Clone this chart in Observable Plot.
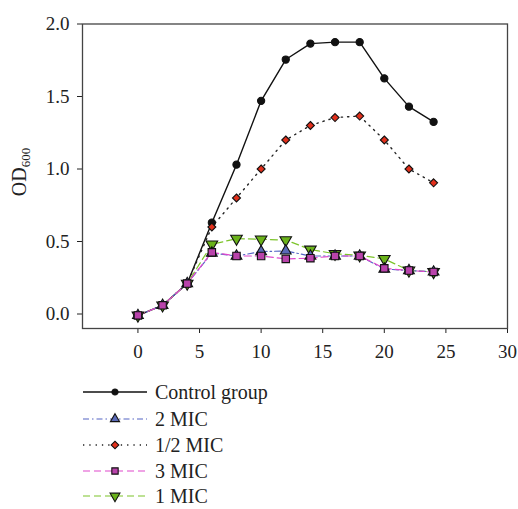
<!DOCTYPE html>
<html>
<head>
<meta charset="utf-8">
<script src="https://cdn.jsdelivr.net/npm/d3@7"></script>
<script src="https://cdn.jsdelivr.net/npm/@observablehq/plot@0.6"></script>
<style>
  html, body { margin: 0; padding: 0; background: #fff; }
  #chart svg, #legend svg { display: block; }
</style>
</head>
<body>
<div id="chart"></div>
<div id="legend"></div>
<script>
const hours = [0, 2, 4, 6, 8, 10, 12, 14, 16, 18, 20, 22, 24];
const seriesNames = ["Control group", "2 MIC", "1/2 MIC", "3 MIC", "1 MIC"];
const control = [-0.01, 0.06, 0.21, 0.63, 1.03, 1.47, 1.755, 1.865, 1.875, 1.875, 1.625, 1.43, 1.325];
const mic2    = [-0.01, 0.06, 0.21, 0.42, 0.40, 0.43, 0.435, 0.40, 0.40, 0.40, 0.31, 0.30, 0.29];
const micHalf = [-0.01, 0.06, 0.21, 0.60, 0.80, 1.00, 1.20, 1.30, 1.355, 1.365, 1.20, 1.00, 0.905];
const mic3    = [-0.01, 0.06, 0.21, 0.425, 0.40, 0.40, 0.38, 0.385, 0.40, 0.40, 0.315, 0.30, 0.29];
const mic1    = [-0.01, 0.06, 0.21, 0.48, 0.52, 0.515, 0.51, 0.445, 0.415, 0.405, 0.38, 0.30, 0.29];
const xTicks = [0, 5, 10, 15, 20, 25, 30];
const yTicks = [0, 0.5, 1.0, 1.5, 2.0];

const FONT = "'Liberation Serif', 'DejaVu Serif', serif";
const styles = {
  "Control group": {stroke: "#111", dash: null, symbol: "circle", fill: "#111", r: 3.6, rotate: 0, width: 1.4},
  "2 MIC": {stroke: "#5565c4", dash: "6,3,1.5,3", symbol: "triangle", fill: "#5a6ab8", r: 4.0, rotate: 0, width: 1.2},
  "1/2 MIC": {stroke: "#222", dash: "1.3,5", symbol: "diamond2", fill: "#e2301c", r: 3.6, rotate: 0, width: 1.4},
  "3 MIC": {stroke: "#e048cc", dash: "7,4", symbol: "square", fill: "#b943ab", r: 4.2, rotate: 0, width: 1.2},
  "1 MIC": {stroke: "#7cc42a", dash: "7,4", symbol: "triangle", fill: "#6ab21a", r: 4.3, rotate: 180, width: 1.2}
};
const valuesBy = {"Control group": control, "2 MIC": mic2, "1/2 MIC": micHalf, "3 MIC": mic3, "1 MIC": mic1};
const drawOrder = ["Control group", "1/2 MIC", "1 MIC", "2 MIC", "3 MIC"];
const rows = name => hours.map((h, i) => ({hour: h, od: valuesBy[name][i], series: name}));

const marks = [Plot.frame({stroke: "#444", strokeWidth: 1.3})];
for (const name of drawOrder) {
  const s = styles[name];
  marks.push(Plot.line(rows(name), {x: "hour", y: "od", stroke: s.stroke, strokeWidth: s.width, strokeDasharray: s.dash}));
}
for (const name of drawOrder) {
  const s = styles[name];
  marks.push(Plot.dot(rows(name), {x: "hour", y: "od", symbol: s.symbol, r: s.r, fill: s.fill, stroke: "#111", strokeWidth: 1.1, rotate: s.rotate}));
}

const chart = Plot.plot({
  width: 518,
  height: 362,
  marginLeft: 82,
  marginRight: 11,
  marginTop: 23.5,
  marginBottom: 34,
  style: {fontFamily: FONT, fontSize: "19px", color: "#222", background: "#fff"},
  x: {domain: [-4.5, 30], ticks: xTicks, tickSize: 5, tickPadding: 11, label: null},
  y: {domain: [-0.1, 2.0], ticks: yTicks, tickFormat: d3.format(".1f"), tickSize: 5, tickPadding: 8, label: null},
  marks
});
document.getElementById("chart").appendChild(chart);

// Y axis label with subscript
const svgSel = d3.select(chart);
const lab = svgSel.append("text")
  .attr("transform", "translate(26,172) rotate(-90)")
  .attr("text-anchor", "middle")
  .attr("font-family", FONT)
  .attr("font-size", 20)
  .attr("fill", "#222");
lab.append("tspan").text("OD");
lab.append("tspan").attr("font-size", 13).attr("dy", 4).text("600");

// Legend
const legendRows = [30, 57, 83, 109, 134];
const lsvg = d3.select("#legend").append("svg").attr("width", 518).attr("height", 147);
const symTypes = {circle: d3.symbolCircle, triangle: d3.symbolTriangle, diamond2: d3.symbolSquare, square: d3.symbolSquare};
seriesNames.forEach((name, i) => {
  const s = styles[name];
  const y = legendRows[i];
  lsvg.append("line").attr("x1", 83).attr("x2", 147).attr("y1", y).attr("y2", y)
    .attr("stroke", s.stroke).attr("stroke-width", s.width)
    .attr("stroke-dasharray", s.dash);
  const rr = s.r * 0.85;
  const rot = s.symbol === "diamond2" ? 45 : s.rotate;
  lsvg.append("path")
    .attr("d", d3.symbol(symTypes[s.symbol], Math.PI * rr * rr)())
    .attr("transform", `translate(115,${y}) rotate(${rot})`)
    .attr("fill", s.fill).attr("stroke", "#111").attr("stroke-width", 1.1);
  lsvg.append("text").attr("x", 155).attr("y", y).attr("dy", "0.35em")
    .attr("font-family", FONT)
    .attr("font-size", 20).attr("fill", "#222").text(name);
});
</script>
</body>
</html>
